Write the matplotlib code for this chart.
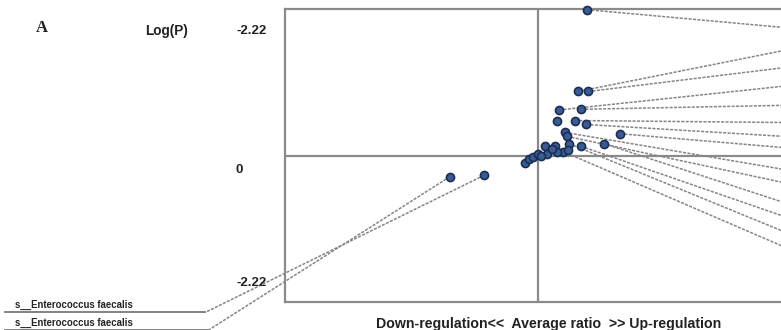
import matplotlib
matplotlib.use('Agg')
import matplotlib.pyplot as plt
import numpy as np

# average ratio (x) and log(P) (y) for each taxon
pt_x = [0.194, 0.158, 0.198, 0.083, 0.170, 0.075, 0.146, 0.190, 0.324, 0.107,
        0.115, 0.170, 0.261, 0.123, 0.028, 0.067, 0.099, -0.051, -0.036, -0.020,
        0.000, 0.036, 0.075, 0.119, 0.055, 0.012, -0.348, -0.213]
pt_y = [2.21, 0.97, 0.97, 0.69, 0.70, 0.52, 0.53, 0.47, 0.33, 0.35,
        0.29, 0.14, 0.18, 0.18, 0.14, 0.14, 0.06, -0.11, -0.06, -0.02,
        0.02, 0.03, 0.05, 0.09, 0.10, 0.00, -0.32, -0.30]

# leader lines to the labels on the right (point index, y where the line leaves the picture)
right_idx = [0, 1, 2, 3, 4, 6, 7, 8, 9, 10, 12, 11, 13, 16]
right_end_y = [1.94, 1.59, 1.33, 1.05, 0.76, 0.50, 0.29, 0.12, -0.21, -0.41,
               -0.71, -0.92, -1.15, -1.38]
right_end_x = 0.97

# labels on the left (down-regulated taxa)
left_labels = ['s__Enterococcus faecalis', 's__Enterococcus faecalis']
left_idx = [27, 26]
left_elbow_x = [-1.316, -1.304]
left_elbow_y = [-2.379, -2.65]
left_start_x = -2.107

ytick_text = ['-2.22', '0', '-2.22']

W, H = 781, 330
fig = plt.figure(figsize=(W / 100, H / 100), dpi=100)
fig.patch.set_facecolor('white')

def fx(px):
    return px / W

def fy(py):
    return 1 - py / H

# plot box: left 285, top 9, bottom 302, centre 538 -> right edge falls outside the image
ax = fig.add_axes([fx(285), fy(302), fx(791) - fx(285), fy(9) - fy(302)])
ax.set_xlim(-1, 1)
ax.set_ylim(-2.22, 2.22)
ax.set_xticks([])
ax.set_yticks([])
box_col = '#8a8a8a'
for s in ax.spines.values():
    s.set_color(box_col)
    s.set_linewidth(1.6)
ax.axhline(0, color=box_col, lw=1.6, zorder=1)
ax.axvline(0, color=box_col, lw=1.6, zorder=1)

dash_col = '#858585'
dash = (0, (2.0, 0.9))
for i, ey in zip(right_idx, right_end_y):
    ax.plot([pt_x[i], right_end_x], [pt_y[i], ey], color=dash_col, lw=1.1,
            linestyle=dash, zorder=2, clip_on=False)

for lab, i, ex, ey in zip(left_labels, left_idx, left_elbow_x, left_elbow_y):
    ax.plot([pt_x[i], ex], [pt_y[i], ey], color=dash_col, lw=1.1,
            linestyle=dash, zorder=2, clip_on=False)
    ax.plot([left_start_x, ex], [ey, ey], color='#7a7a7a', lw=1.3,
            zorder=2, clip_on=False)
    ax.text(left_start_x + 0.04, ey + 0.04, lab, fontsize=6.9, fontweight='bold',
            family='Liberation Sans', color='#222222', ha='left', va='bottom',
            clip_on=False)

ax.plot(pt_x, pt_y, 'o', markersize=5.8, markerfacecolor='#3a5c95',
        markeredgecolor='#1b2d52', markeredgewidth=1.2, zorder=3, clip_on=False,
        linestyle='none')

txt = dict(fontweight='bold', family='Liberation Sans', color='#222222', va='center')
fig.text(fx(36), fy(28), 'A', fontsize=12, fontweight='bold', family='Liberation Serif',
         color='#222222', va='center')
fig.text(fx(145), fy(31), 'Log(P)', fontsize=9.8, ha='left', **txt)
fig.text(fx(267), fy(31), ytick_text[0], fontsize=9.5, ha='right', **txt)
fig.text(fx(235), fy(170), ytick_text[1], fontsize=9.5, ha='left', **txt)
fig.text(fx(267), fy(283), ytick_text[2], fontsize=9.5, ha='right', **txt)
fig.text(fx(549), fy(324), 'Down-regulation<<  Average ratio  >> Up-regulation',
         fontsize=10.2, ha='center', **txt)

fig.savefig('out.png', dpi=100, facecolor='white')
